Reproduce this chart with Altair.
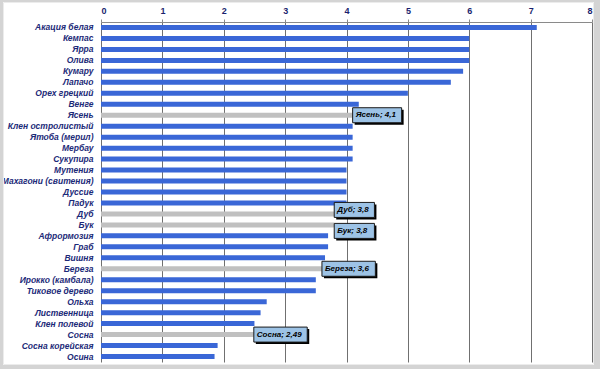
import altair as alt
import pandas as pd

species = ["Акация белая", "Кемпас", "Ярра", "Олива", "Кумару", "Лапачо",
           "Орех грецкий", "Венге", "Ясень", "Клен остролистый", "Ятоба (мерил)",
           "Мербау", "Сукупира", "Мутения", "Махагони (свитения)", "Дуссие",
           "Падук", "Дуб", "Бук", "Афрормозия", "Граб", "Вишня", "Береза",
           "Ирокко (камбала)", "Тиковое дерево", "Ольха", "Лиственница",
           "Клен полевой", "Сосна", "Сосна корейская", "Осина"]
hardness = [7.1, 6.0, 6.0, 6.0, 5.9, 5.7,
            5.0, 4.2, 4.1, 4.1, 4.1,
            4.1, 4.1, 4.0, 4.0, 4.0,
            4.0, 3.8, 3.8, 3.7, 3.7, 3.65, 3.6,
            3.5, 3.5, 2.7, 2.6,
            2.5, 2.49, 1.9, 1.85]
highlighted = ["Ясень", "Дуб", "Бук", "Береза", "Сосна"]
x_ticks = [0, 1, 2, 3, 4, 5, 6, 7, 8]

df = pd.DataFrame({"species": species, "value": hardness})
df["kind"] = ["hl" if s in highlighted else "main" for s in species]

W, H = 491, 340
XMAX = 8
PX_PER_UNIT = W / XMAX
FONT = "Liberation Sans"
# vertical nudges (px) so adjacent callouts do not overlap
nudge = {"Дуб": -4, "Бук": 6}

yscale = alt.Scale(domain=species, paddingInner=0, paddingOuter=0)
xscale = alt.Scale(domain=[0, XMAX], nice=False)

bars = alt.Chart(df).mark_bar(size=5).encode(
    x=alt.X("value:Q", scale=xscale,
            axis=alt.Axis(orient="top", values=x_ticks, title=None,
                          labelFont=FONT, labelFontWeight="bold", labelFontSize=9,
                          labelColor="#1a1f6e", domainColor="#8a8a8a",
                          tickColor="#8a8a8a", tickSize=3, labelPadding=4,
                          grid=True, gridColor="#707070", gridWidth=1,
                          format="d")),
    y=alt.Y("species:N", scale=yscale, sort=species,
            axis=alt.Axis(title=None, ticks=False, domain=False, labelPadding=8,
                          labelFont=FONT, labelFontWeight="bold",
                          labelFontStyle="italic", labelFontSize=8.5,
                          labelColor="#1c2a78", labelLimit=0)),
    color=alt.Color("kind:N", scale=alt.Scale(domain=["main", "hl"],
                                              range=["#3a67d7", "#c0c0c0"]),
                    legend=None),
)

layers = [bars]
for name in highlighted:
    v = hardness[species.index(name)]
    label = f"{name}; {str(v).replace('.', ',')}"
    end = v + (4.4 * len(label) + 5) / PX_PER_UNIT
    dy = nudge.get(name, 0)
    adf = pd.DataFrame({"species": [name], "value": [v], "end": [end], "label": [label]})
    abase = alt.Chart(adf)
    enc = dict(x=alt.X("value:Q", scale=xscale), x2="end:Q",
               y=alt.Y("species:N", scale=yscale, sort=species))
    shadow = abase.mark_bar(size=15, color="#000000", xOffset=2, x2Offset=2,
                            yOffset=2 + dy).encode(**enc)
    box = abase.mark_bar(size=15, fill="#9dc3e6", stroke="#1a1a1a",
                         strokeWidth=1, yOffset=dy).encode(**enc)
    txt = abase.mark_text(align="left", baseline="middle", dx=3, dy=dy, font=FONT,
                          fontStyle="italic", fontWeight="bold", fontSize=8,
                          color="#000000").encode(
        x=alt.X("value:Q", scale=xscale),
        y=alt.Y("species:N", scale=yscale, sort=species),
        text="label:N")
    layers += [shadow, box, txt]

frame = alt.Chart(pd.DataFrame({"a": [0]})).mark_rect(
    fill=None, stroke="#d4d4d4", strokeWidth=6).encode(
    x=alt.value(-101), x2=alt.value(496), y=alt.value(-23), y2=alt.value(346))
inner = alt.Chart(pd.DataFrame({"a": [0]})).mark_rect(
    fill=None, stroke="#ececec", strokeWidth=1).encode(
    x=alt.value(-97.5), x2=alt.value(492.5), y=alt.value(-19.5), y2=alt.value(342.5))
layers += [inner, frame]

chart = alt.layer(*layers).properties(
    width=W, height=H,
    autosize=alt.AutoSizeParams(type="none"),
    padding={"left": 101, "top": 22, "right": 8, "bottom": 7},
    background="white",
).configure_view(stroke=None)

chart.save("out.html", embed_options={"renderer": "svg", "actions": False})
